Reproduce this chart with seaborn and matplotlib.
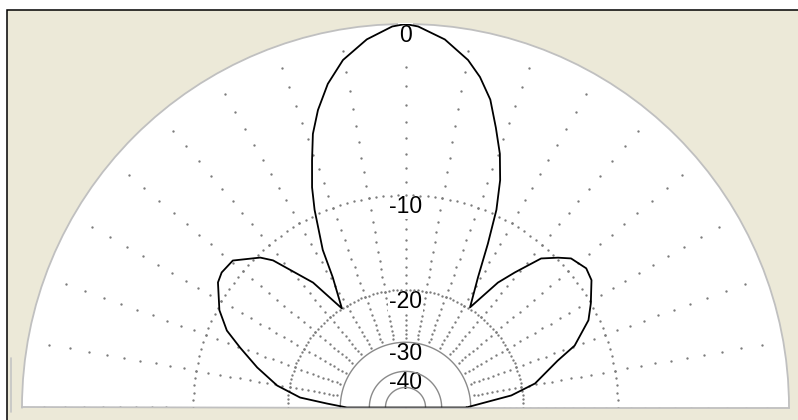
import numpy as np
import pandas as pd
import matplotlib
matplotlib.use("Agg")
import matplotlib.pyplot as plt
from matplotlib.patches import Rectangle
from matplotlib.lines import Line2D
import seaborn as sns

sns.set_style("white")
plt.rcParams["font.family"] = ["Liberation Sans Narrow", "Liberation Sans", "DejaVu Sans"]

# ---------------------------------------------
# radiation pattern (deg, dB)
# ---------------------------------------------
angle_deg = [0, 3.0, 6.5, 10.5, 17.1, 20.1, 25.5, 29.3, 34.4, 37.6, 42.0, 44.5,
             47.7, 51.0, 53.5, 57.2, 60.9, 63.3, 65.3, 67.4, 69.6, 72.1, 74.6,
             77.3, 79.8, 83.9, 88.1, 90.0, 92.0, 96.0, 100.2, 103.5, 106.4,
             108.7, 110.7, 113.0, 114.7, 117.7, 119.2, 122.7, 126.5, 132.0,
             134.1, 139.6, 143.7, 146.3, 152.4, 156.7, 160.1, 164.9, 170.3,
             174.6, 177.1, 180.0]
gain_db = [-31.2, -27.5, -21.7, -18.1, -14.9, -12.8, -10.8, -10.0, -9.0, -8.8,
           -9.2, -9.9, -10.9, -13.4, -15.3, -19.8, -16.0, -12.5, -9.6, -7.5,
           -5.9, -4.5, -3.1, -2.1, -1.4, -0.6, -0.1, 0.0, -0.1, -0.6, -1.4,
           -2.4, -3.6, -4.8, -6.3, -8.0, -9.6, -13.0, -16.0, -20.0, -15.3,
           -11.2, -10.3, -8.9, -8.8, -9.0, -10.2, -11.5, -13.2, -15.5, -18.3,
           -21.8, -26.8, -31.8]

dotted_rings = [-10, -20]
solid_rings = [-30, -40, -50]
label_db = [0, -10, -20, -30, -40]
label_txt = ["0", "-10", "-20", "-30", "-40"]
spoke_deg = np.arange(0, 181, 10)

# close the trace (line back along the baseline)
pattern = pd.DataFrame({
    "theta": np.radians(angle_deg + [angle_deg[0]]),
    "db": gain_db + [gain_db[0]],
})


def fwd(d):
    return np.power(10.0, np.asarray(d, dtype=float) / 39.0)


def inv(r):
    return 39.0 * np.log10(np.clip(np.asarray(r, dtype=float), 1e-12, None))


W, H = 798, 420
fig = plt.figure(figsize=(W / 100, H / 100), dpi=100, facecolor="white")

# beige window panel with black frame on top / left
fig.add_artist(Rectangle((7 / W, -0.1), 1.0, 410 / H + 0.1, transform=fig.transFigure,
                         fc="#ECE9D8", ec="black", lw=1.1, zorder=0))
fig.add_artist(Line2D([10.5 / W, 10.5 / W], [8 / H, 62 / H], transform=fig.transFigure,
                      color="#c4c4c4", lw=1.2))

# semicircle: centre (405.5, 407.5) px from top-left, radius 383.5
R = 383.5
cx, cy = 405.5, H - 407.5
ax = fig.add_axes([(cx - R) / W, (cy - R / 2) / H, 2 * R / W, 2 * R / H],
                  projection="polar")
ax.set_thetamin(0)
ax.set_thetamax(180)
ax.set_facecolor("white")

sns.lineplot(data=pattern, x="theta", y="db", sort=False, estimator=None,
             color="black", lw=1.3, ax=ax, zorder=5)

ax.set_rscale("function", functions=(fwd, inv))
ax.set_rlim(-200, 0)
ax.set_xticks([])
ax.set_yticks([])
ax.grid(False)
ax.set_xlabel("")
ax.set_ylabel("")

# dotted spokes: one dot per dB
dot_db = np.arange(-1, -30, -1)
for a in spoke_deg:
    ax.plot(np.full(dot_db.size, np.radians(a)), dot_db, ls="none", marker="o",
            ms=1.7, mew=0, color="#7c7c7c", zorder=2)

# rings: a dot every 2 degrees, inner ones solid
ring_theta = np.radians(np.arange(0, 180.5, 2))
for d in dotted_rings:
    ax.plot(ring_theta, np.full(ring_theta.size, d), ls="none", marker="o",
            ms=1.7, mew=0, color="#7c7c7c", zorder=4)
for d in solid_rings:
    ax.plot(ring_theta, np.full(ring_theta.size, d), ls="-", lw=1.0,
            color="#8a8a8a", zorder=4)

for d, t in zip(label_db, label_txt):
    ax.text(np.pi / 2, d, t, ha="center", va="top", fontsize=16.5,
            color="black", zorder=3,
            bbox=dict(fc="white", ec="none", pad=0.5))

for s in ("polar", "start", "end"):
    ax.spines[s].set_color("#c0c0c0")
    ax.spines[s].set_linewidth(1.3)
ax.spines["inner"].set_visible(False)

fig.savefig("out.png", dpi=100, facecolor=fig.get_facecolor())
